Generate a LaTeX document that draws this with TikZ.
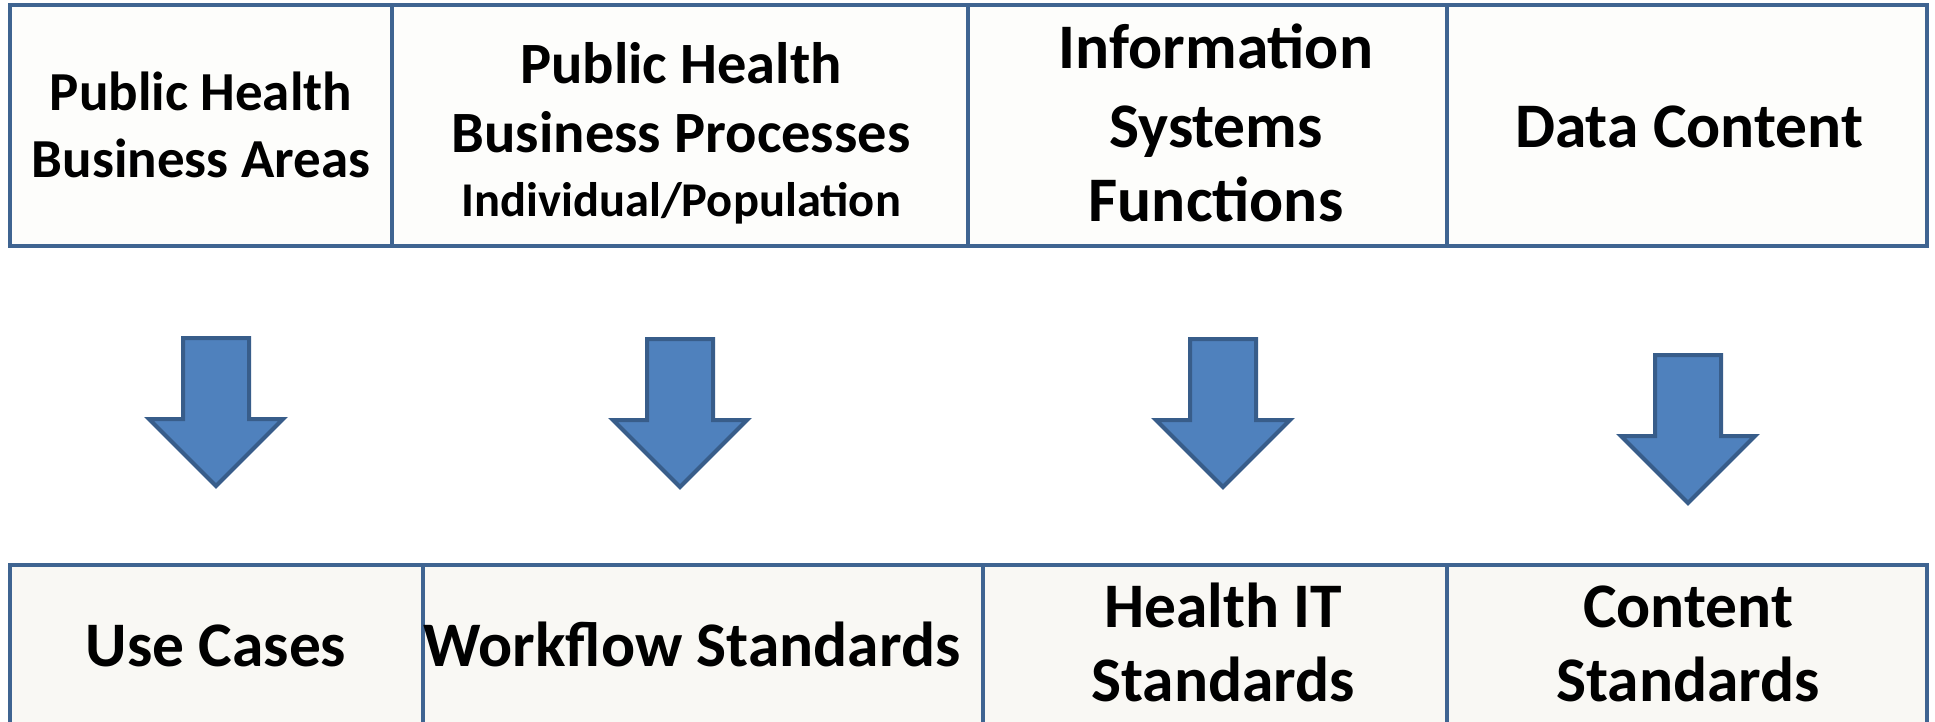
\documentclass[tikz,border=0pt]{standalone}
\usepackage{fontspec}
\setmainfont{Carlito}
\definecolor{boxline}{HTML}{3F6491}
\definecolor{topfill}{HTML}{FDFDFB}
\definecolor{botfill}{HTML}{F9F8F4}
\definecolor{arrfill}{HTML}{4F81BD}
\definecolor{arrline}{HTML}{385D8A}
\tikzset{
  topbox/.style={draw=boxline, fill=topfill, line width=4.5pt},
  botbox/.style={draw=boxline, fill=botfill, line width=4.5pt},
  blockarrow/.style={draw=arrline, fill=arrfill, line width=4pt, line join=miter},
  lbl/.style={anchor=base, inner sep=0pt, text=black, font=\bfseries\fontsize{#1}{#1}\selectfont},
}
\begin{document}
\begin{tikzpicture}[x=1pt,y=-1pt]
\useasboundingbox (0,0) rectangle (1935,722);
\clip (0,0) rectangle (1935,722);
\fill[white] (0,0) rectangle (1935,722);
% top row
\draw[topbox] (10,5) rectangle (392,246);
\draw[topbox] (392,5) rectangle (968,246);
\draw[topbox] (968,5) rectangle (1447,246);
\draw[topbox] (1447,5) rectangle (1927,246);
% bottom row
\draw[botbox] (10,565) rectangle (423,760);
\draw[botbox] (423,565) rectangle (983,760);
\draw[botbox] (983,565) rectangle (1447,760);
\draw[botbox] (1447,565) rectangle (1927,760);
% arrows
\foreach \cx/\ty/\nm in {216/338/a1, 680/339/a2, 1223/339/a3, 1688/355/a4}{
  \draw[blockarrow] (\cx-33,\ty) -- (\cx+33,\ty) -- (\cx+33,\ty+81) -- (\cx+67,\ty+81)
     -- (\cx,\ty+148) -- (\cx-67,\ty+81) -- (\cx-33,\ty+81) -- cycle;
}
% top texts
\node[lbl=55] (t1a) at (201,111) {Public Health};
\node[lbl=55] (t1b) at (201,178) {Business Areas};
\node[lbl=58.5] (t2a) at (681,84) {Public Health};
\node[lbl=58.5] (t2b) at (681,153) {Business Processes};
\node[lbl=48.5] (t2c) at (681,216) {Individual/Population};
\node[lbl=63.5] (t3a) at (1216,69) {Information};
\node[lbl=63.5] (t3b) at (1216,148) {Systems};
\node[lbl=63.5] (t3c) at (1216,222) {Functions};
\node[lbl=63.5] (t4a) at (1689,148) {Data Content};
% bottom texts
\node[lbl=63.5] (u1) at (216,666) {Use Cases};
\node[lbl=63.5] (u2) at (692,666) {Workflow Standards};
\node[lbl=63.5] (u3a) at (1223,627) {Health IT};
\node[lbl=63.5] (u3b) at (1223,701) {Standards};
\node[lbl=63.5] (u4a) at (1688,627) {Content};
\node[lbl=63.5] (u4b) at (1688,701) {Standards};
\end{tikzpicture}
\end{document}
